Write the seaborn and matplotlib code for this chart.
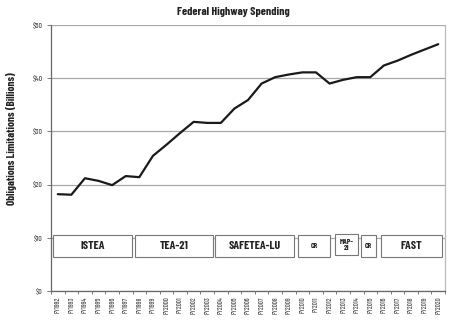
import matplotlib
matplotlib.use("Agg")
import matplotlib.pyplot as plt
from matplotlib.patches import Rectangle
import seaborn as sns
import pandas as pd

years = [f"FY{y}" for y in range(1992, 2021)]
spending = [18.2, 18.1, 21.2, 20.7, 19.9, 21.6, 21.4, 25.4, 27.5, 29.7,
            31.8, 31.6, 31.6, 34.3, 35.9, 39.0, 40.2, 40.7, 41.1, 41.1,
            39.0, 39.7, 40.2, 40.2, 42.4, 43.3, 44.4, 45.4, 46.4]
y_ticks = [0, 10, 20, 30, 40, 50]
y_tick_labels = ["$0", "$10", "$20", "$30", "$40", "$50"]
programs = ["ISTEA", "TEA-21", "SAFETEA-LU", "CR", "MAP-\n21", "CR", "FAST"]
# layout of the program boxes (x span in category units)
prog_x0 = [-0.35, 5.7, 11.6, 17.7, 20.4, 22.3, 23.8]
prog_x1 = [5.45, 11.45, 17.35, 20.0, 22.1, 23.4, 28.3]

sns.set_style("white")
FONT = ["Barlow Condensed", "DejaVu Sans"]
plt.rcParams["font.family"] = FONT

fig = plt.figure(figsize=(4.5, 3.21), dpi=100)
ax = fig.add_axes([0.1133, 0.0935, 0.8757, 0.8285])

df = pd.DataFrame({"year": years, "spending": spending})
sns.lineplot(data=df, x="year", y="spending", ax=ax, color="#1a1a1a",
             linewidth=1.6, sort=False)

ax.set_xlim(-0.5, len(years) - 0.5)
ax.set_ylim(0, 50)
ax.set_yticks(y_ticks)
ax.set_yticklabels(y_tick_labels, fontsize=5.5, color="#555555", fontweight="medium")
ax.yaxis.grid(True, color="#a8a8a8", linewidth=0.9)
ax.set_axisbelow(True)

ax.set_xticks(range(len(years)))
ax.set_xticklabels(years, rotation=90, fontsize=5, color="#555555", fontweight="medium")
ax.set_xticks([i + 0.5 for i in range(-1, len(years))], minor=True)
ax.tick_params(axis="x", which="major", length=0, pad=4)
ax.tick_params(axis="x", which="minor", length=2.5, width=0.6, color="#666666", direction="out", bottom=True)
ax.tick_params(axis="y", length=3, width=0.6, color="#666666", direction="out", left=True, pad=3)

for side in ["left", "bottom"]:
    ax.spines[side].set_color("#666666")
    ax.spines[side].set_linewidth(0.9)
ax.spines["right"].set_visible(True)
ax.spines["right"].set_color("#bbbbbb")
ax.spines["right"].set_linewidth(0.9)
ax.spines["top"].set_visible(False)

ax.set_xlabel("")
ax.set_ylabel("")

for name, x0, x1 in zip(programs, prog_x0, prog_x1):
    small = "\n" in name
    y0, y1 = (6.7, 10.7) if small else (6.3, 10.5)
    ax.add_patch(Rectangle((x0, y0), x1 - x0, y1 - y0, facecolor="white",
                           edgecolor="#777777", linewidth=0.8, zorder=3))
    fs = 5.5 if (small or name == "CR") else 8.5
    ax.text((x0 + x1) / 2, (y0 + y1) / 2, name, ha="center", va="center",
            fontsize=fs, fontweight="bold", color="#222222", zorder=4,
            linespacing=1.0)

fig.text(233 / 450, 1 - 12 / 321, "Federal Highway Spending", ha="center",
         va="center", fontsize=8.5, fontweight="bold", color="#222222")
fig.text(12 / 450, 1 - 139 / 321, "Obligations Limitations (Billions)",
         rotation=90, ha="center", va="center", fontsize=8,
         fontweight="bold", color="#222222")

fig.savefig("out.png", dpi=100)
